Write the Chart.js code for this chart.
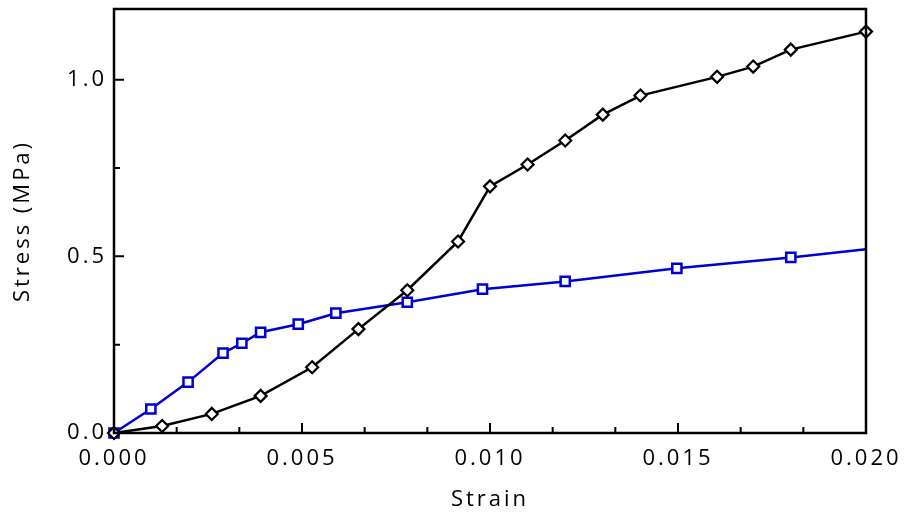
<!DOCTYPE html>
<html>
<head>
<meta charset="utf-8">
<script src="https://cdn.jsdelivr.net/npm/chart.js@4.4.0/dist/chart.umd.min.js"></script>
<style>
  html, body { margin: 0; padding: 0; background: #fff; }
  #wrap { width: 904px; height: 513px; }
</style>
</head>
<body>
<div id="wrap"><canvas id="stress-chart" width="904" height="513"></canvas></div>
<script>
  // black diamonds
  var strainA = [0, 0.00128, 0.0026, 0.0039, 0.00527, 0.0065, 0.0078, 0.00915, 0.0100, 0.0110, 0.0120, 0.0130, 0.0140, 0.01604, 0.0170, 0.0180, 0.0200];
  var stressA = [0, 0.020, 0.054, 0.105, 0.186, 0.294, 0.404, 0.542, 0.698, 0.760, 0.828, 0.901, 0.955, 1.008, 1.037, 1.085, 1.136];
  // blue squares (last point is only the line end, no marker)
  var strainB = [0, 0.00098, 0.00197, 0.0029, 0.0034, 0.0039, 0.0049, 0.0059, 0.0078, 0.0098, 0.0120, 0.01497, 0.0180, 0.0200];
  var stressB = [0, 0.068, 0.144, 0.226, 0.254, 0.285, 0.308, 0.339, 0.370, 0.407, 0.429, 0.466, 0.497, 0.520];

  var xTicks = [0, 0.005, 0.010, 0.015, 0.020];
  var yTicks = [0, 0.5, 1.0];

  function toPoints(xs, ys) {
    var pts = [];
    xs.forEach(function (x, i) { pts.push({ x: x, y: ys[i] }); });
    return pts;
  }

  var fontFamily = "'Open Sans', 'DejaVu Sans', sans-serif";

  // frame and inward tick marks
  var framePlugin = {
    id: 'frame',
    beforeDraw: function (chart) {
      chart.ctx.letterSpacing = '3px';
    },
    afterDraw: function (chart) {
      var ctx = chart.ctx;
      var a = chart.chartArea;
      var xs = chart.scales.x, ys = chart.scales.y;
      ctx.save();
      ctx.strokeStyle = '#000';
      ctx.lineWidth = 2.5;
      ctx.beginPath();
      ctx.rect(a.left, a.top, a.right - a.left, a.bottom - a.top);
      ctx.stroke();
      ctx.lineWidth = 2;
      ctx.beginPath();
      var i, v, p;
      for (i = 0; i <= 12; i++) {
        v = i * 0.005 / 3;
        p = xs.getPixelForValue(v);
        var len = (i % 3 === 0) ? 10 : 6;
        ctx.moveTo(p, a.bottom);
        ctx.lineTo(p, a.bottom - len);
      }
      for (i = 0; i <= 4; i++) {
        v = i * 0.25;
        p = ys.getPixelForValue(v);
        var ylen = (i % 2 === 0) ? 10 : 6;
        ctx.moveTo(a.left, p);
        ctx.lineTo(a.left + ylen, p);
      }
      ctx.stroke();
      ctx.restore();
    }
  };

  var chartContext = document.getElementById('stress-chart');
  var stressChart = new Chart(chartContext, {
    type: 'scatter',
    data: {
      datasets: [
        {
          data: toPoints(strainB, stressB),
          showLine: true,
          clip: false,
          borderColor: '#0000d0',
          borderWidth: 2.5,
          pointStyle: 'rect',
          pointRadius: strainB.map(function (v, i) { return i === strainB.length - 1 ? 0 : 6.5; }),
          pointBorderWidth: 2.5,
          pointBorderColor: '#0000d0',
          pointBackgroundColor: '#fff',
          order: 2
        },
        {
          data: toPoints(strainA, stressA),
          showLine: true,
          clip: false,
          borderColor: '#000',
          borderWidth: 2.5,
          pointStyle: 'rectRot',
          pointRadius: 6,
          pointBorderWidth: 2.2,
          pointBorderColor: '#000',
          pointBackgroundColor: '#fff',
          order: 1
        }
      ]
    },
    options: {
      responsive: false,
      animation: false,
      layout: { padding: { top: 7, right: 38, left: 10, bottom: 0 } },
      plugins: { legend: { display: false }, tooltip: { enabled: false } },
      scales: {
        x: {
          type: 'linear',
          min: 0,
          max: 0.02,
          afterBuildTicks: function (scale) {
            scale.ticks = xTicks.map(function (v) { return { value: v }; });
          },
          afterFit: function (scale) {
            scale.height = 80;
            scale.paddingLeft = 0;
            scale.paddingRight = 0;
          },
          grid: { display: false, drawTicks: false },
          border: { display: false },
          ticks: {
            padding: 13,
            color: '#000',
            font: { family: fontFamily, size: 22 },
            callback: function (v) { return Number(v).toFixed(3); }
          },
          title: {
            display: true,
            text: 'Strain',
            color: '#000',
            font: { family: fontFamily, size: 22 },
            padding: { top: 2, bottom: 0 }
          }
        },
        y: {
          type: 'linear',
          min: 0,
          max: 1.2,
          afterBuildTicks: function (scale) {
            scale.ticks = yTicks.map(function (v) { return { value: v }; });
          },
          afterFit: function (scale) {
            scale.width = 104;
            scale.paddingTop = 0;
            scale.paddingBottom = 0;
          },
          grid: { display: false, drawTicks: false },
          border: { display: false },
          ticks: {
            padding: 7,
            color: '#000',
            font: { family: fontFamily, size: 22 },
            callback: function (v) { return Number(v).toFixed(1); }
          },
          title: {
            display: true,
            text: 'Stress (MPa)',
            color: '#000',
            font: { family: fontFamily, size: 22 },
            padding: { top: 0, bottom: 8 }
          }
        }
      }
    },
    plugins: [framePlugin]
  });
</script>
</body>
</html>
